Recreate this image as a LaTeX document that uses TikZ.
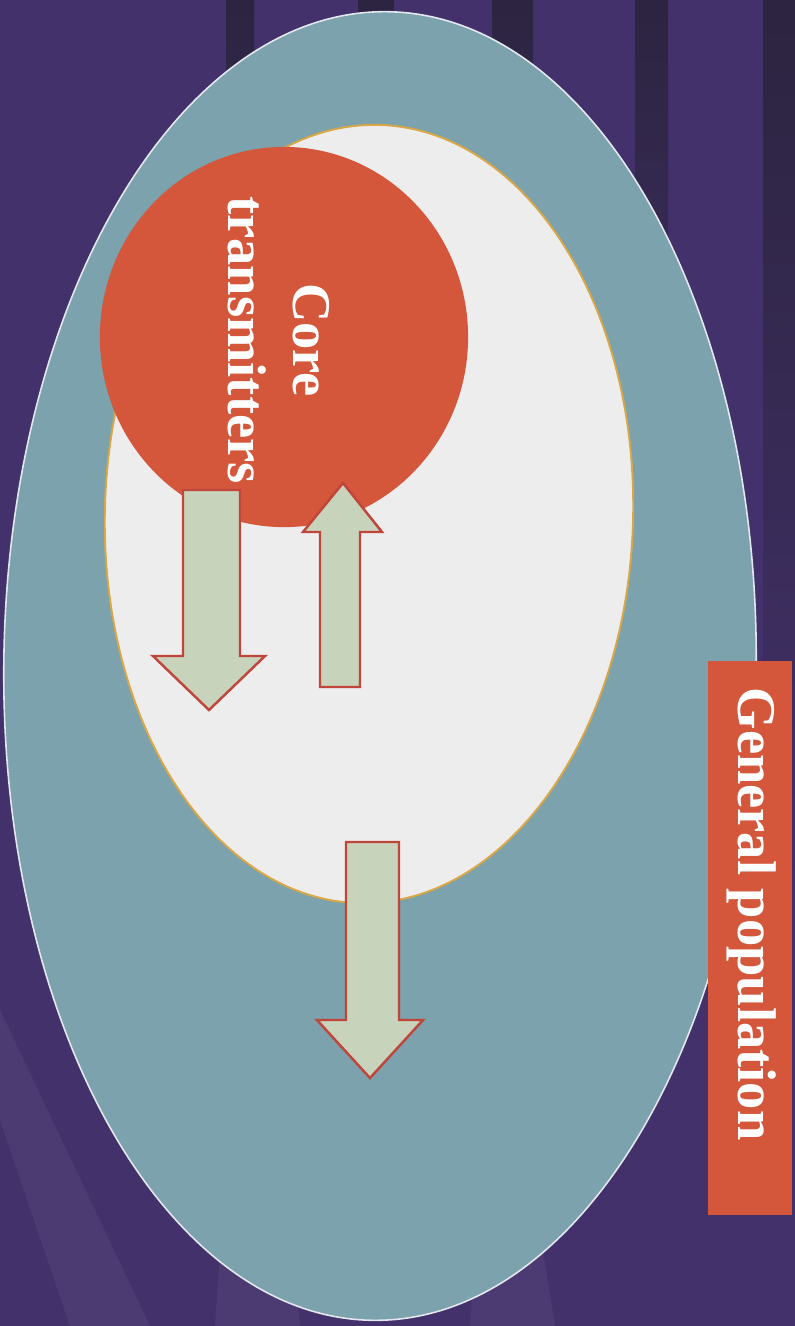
\documentclass[tikz,border=0pt]{standalone}
\usepackage{fontspec}
\setmainfont{Liberation Serif}
\usetikzlibrary{shapes.geometric}
\definecolor{bgpurple}{HTML}{43316B}
\definecolor{stripec}{HTML}{2C2440}
\definecolor{lightray}{HTML}{6A5A8E}
\definecolor{tealc}{HTML}{7BA2AD}
\definecolor{rimc}{HTML}{E4E8EE}
\definecolor{whitec}{HTML}{EEEDEE}
\definecolor{goldc}{HTML}{D9A746}
\definecolor{redc}{HTML}{D4573B}
\definecolor{arrowfill}{HTML}{C8D3BC}
\definecolor{arrowline}{HTML}{C0463B}
\tikzset{
  stripe/.style={top color=stripec, bottom color=bgpurple},
  ray/.style={fill=lightray, opacity=0.25},
  fatarrow/.style={fill=arrowfill, draw=arrowline, line width=0.7pt, line join=miter},
  label/.style={text=white, font=\bfseries\fontsize{15.5}{18.5}\selectfont, align=center, inner sep=0pt}
}
\begin{document}
\begin{tikzpicture}[x=0.01cm,y=-0.01cm]
\useasboundingbox (0,0) rectangle (795,1326);
% background
\fill[bgpurple] (0,0) rectangle (795,1326);
\shade[stripe] (226,0) rectangle (254,420);
\shade[stripe] (358,0) rectangle (394,420);
\shade[stripe] (492,0) rectangle (533,420);
\shade[stripe] (635,0) rectangle (668,560);
\shade[stripe] (763,0) rectangle (795,900);
\fill[ray] (0,1010) -- (0,1120) -- (70,1326) -- (150,1326) -- cycle;
\fill[ray] (225,1180) -- (285,1180) -- (300,1326) -- (215,1326) -- cycle;
\fill[ray] (480,1200) -- (535,1200) -- (555,1326) -- (470,1326) -- cycle;
% population ellipses
\node[ellipse, minimum width=7.52cm, minimum height=13.08cm, inner sep=0pt,
      fill=tealc, draw=rimc, line width=0.45pt, rotate=-0.6] (pop) at (380,666) {};
\node[ellipse, minimum width=5.28cm, minimum height=7.78cm, inner sep=0pt,
      fill=whitec, draw=goldc, line width=0.55pt, rotate=-1.5] (risk) at (369,514) {};
\node[ellipse, minimum width=3.68cm, minimum height=3.80cm, inner sep=0pt,
      fill=redc] (core) at (284,337) {};
\node[label, rotate=-90] (coretext) at (279,340) {Core\\transmitters};
% arrows
\draw[fatarrow] (183,490) -- (240,490) -- (240,656) -- (265,656) -- (209,710)
      -- (153,656) -- (183,656) -- cycle;
\draw[fatarrow] (320,687) -- (360,687) -- (360,532) -- (382,532) -- (343,483)
      -- (303,532) -- (320,532) -- cycle;
\draw[fatarrow] (346,842) -- (399,842) -- (399,1020) -- (423,1020) -- (370,1078)
      -- (317,1020) -- (346,1020) -- cycle;
% general population label
\node[fill=redc, minimum width=0.84cm, minimum height=5.53cm, inner sep=0pt]
      (gen) at (750,938) {};
\node[label, rotate=-90] (gentext) at (752,914) {General population};
\end{tikzpicture}
\end{document}
